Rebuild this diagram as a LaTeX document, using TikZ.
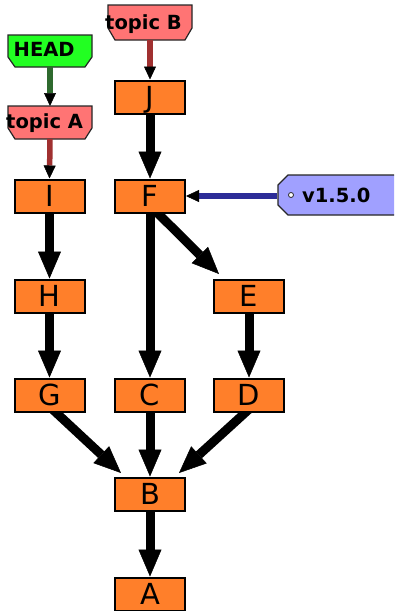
\documentclass[tikz,border=0pt]{standalone}
\usepackage{fontspec}
\setmainfont{DejaVu Sans}
\usetikzlibrary{arrows.meta,calc,backgrounds}
\definecolor{commitfill}{HTML}{FF7F2A}
\definecolor{headfill}{HTML}{22FF22}
\definecolor{topicfill}{HTML}{FF7474}
\definecolor{tagfill}{HTML}{A0A0FF}
\definecolor{headline}{HTML}{2F6A2F}
\definecolor{topicline}{HTML}{A03030}
\definecolor{tagline}{HTML}{2C2C98}
\begin{document}
\begin{tikzpicture}[x=1pt,y=-1pt,
  commit/.style={draw=black,line width=2pt,fill=commitfill,minimum width=70pt,minimum height=33pt,inner sep=0pt,
    font=\fontsize{29}{31}\selectfont,text height=21.1pt,text depth=0pt},
  tagtext/.style={inner sep=0pt,font=\bfseries\fontsize{19.5}{21}\selectfont,text height=14.2pt,text depth=0pt,anchor=west},
  tagshape/.style={draw=black!85,line width=1.2pt},
  bigarrow/.style={line width=9pt,-{Triangle[length=27pt,width=23pt,line width=0.5pt]}},
  refarrow/.style={line width=5.5pt,-{Triangle[length=13pt,width=12pt,color=black,line width=0.5pt]}},
]
\clip (0,0) rectangle (394,611);

% tags
\draw[tagshape,fill=headfill] (8,35) -- (92,35) -- (92,57) -- (85,67) -- (15,67) -- (8,57) -- cycle;
\draw[tagshape,fill=topicfill] (8,106) -- (92,106) -- (92,128) -- (85,139) -- (15,139) -- (8,128) -- cycle;
\draw[tagshape,fill=topicfill] (108,5) -- (192,5) -- (192,28) -- (185,40) -- (115,40) -- (108,28) -- cycle;
\draw[tagshape,fill=tagfill] (288,175) -- (400,175) -- (400,215) -- (288,215) -- (278,205) -- (278,185) -- cycle;
\draw[fill=white,draw=black!85,line width=0.8pt] (291,195) circle (2.5);

\node[tagtext] (head) at (13.5,49) {HEAD};
\node[tagtext] (topicA) at (6,121) {topic A};
\node[tagtext] (topicB) at (105,22.5) {topic B};
\node[tagtext] (v150) at (302,195) {v1.5.0};

\coordinate (headbot) at (50,67);
\coordinate (topicAtop) at (50,106);
\coordinate (topicAbot) at (50,139);
\coordinate (topicBbot) at (150,40);
\coordinate (v150left) at (277,196);

% commits
\node[commit] (J) at (150,97) {J};
\node[commit] (I) at (49.5,196) {I};
\node[commit] (F) at (150,196) {F};
\node[commit] (H) at (49.5,296) {H};
\node[commit] (E) at (249,296) {E};
\node[commit] (G) at (49.5,395) {G};
\node[commit] (C) at (150,395) {C};
\node[commit] (D) at (249,395) {D};
\node[commit] (B) at (150,494) {B};
\node[commit] (A) at (150,594) {A};

\begin{scope}[on background layer]
\fill[white] (0,0) rectangle (394,611);
\draw[bigarrow] (J) -- (F);
\draw[bigarrow] (F) -- (C);
\draw[bigarrow] ($(F.south)+(2,-6)$) -- ($(E.north west)+(6,-4.5)$);
\draw[bigarrow] (I) -- (H);
\draw[bigarrow] (H) -- (G);
\draw[bigarrow] (E) -- (D);
\draw[bigarrow] (C) -- (B);
\draw[bigarrow] ($(G.south)+(0,-6)$) -- ($(B.north west)+(7,-3.5)$);
\draw[bigarrow] ($(D.south)+(3,-6)$) -- ($(B.north east)+(-7,-3.5)$);
\draw[bigarrow] (B) -- (A);
\end{scope}

\draw[refarrow,draw=headline] (headbot) -- (topicAtop);
\draw[refarrow,draw=topicline] (topicAbot) -- (I.north);
\draw[refarrow,draw=topicline] (topicBbot) -- (J.north);
\draw[refarrow,draw=tagline] (v150left) -- (F.east);
\end{tikzpicture}
\end{document}
